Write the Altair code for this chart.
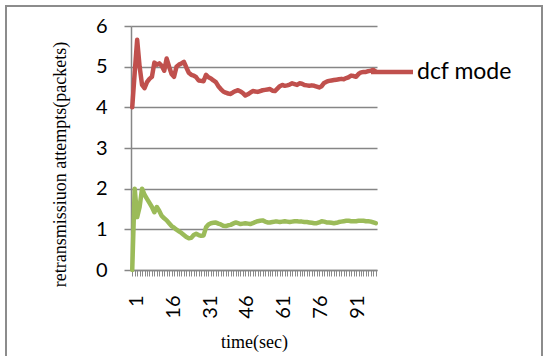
import altair as alt
import pandas as pd

time = list(range(1, 101))

dcf = [4.00, 4.85, 5.66, 5.00, 4.55, 4.47, 4.62, 4.70, 4.75, 5.10,
       5.05, 5.08, 5.02, 4.90, 5.20, 5.00, 4.82, 4.75, 5.00, 5.05,
       5.08, 5.12, 4.98, 4.85, 4.80, 4.78, 4.74, 4.66, 4.65, 4.64,
       4.80, 4.74, 4.71, 4.66, 4.62, 4.52, 4.45, 4.39, 4.36, 4.34,
       4.33, 4.37, 4.40, 4.42, 4.39, 4.35, 4.29, 4.32, 4.36, 4.40,
       4.39, 4.38, 4.40, 4.42, 4.43, 4.44, 4.45, 4.41, 4.40, 4.46,
       4.52, 4.55, 4.53, 4.54, 4.56, 4.59, 4.57, 4.55, 4.59, 4.58,
       4.55, 4.54, 4.53, 4.54, 4.53, 4.51, 4.49, 4.52, 4.60, 4.63,
       4.65, 4.66, 4.67, 4.68, 4.69, 4.70, 4.69, 4.72, 4.74, 4.78,
       4.77, 4.75, 4.82, 4.86, 4.87, 4.87, 4.89, 4.90, 4.92, 4.88]

other = [0.00, 2.00, 1.30, 1.55, 2.00, 1.85, 1.75, 1.65, 1.55, 1.42,
         1.55, 1.45, 1.33, 1.27, 1.22, 1.15, 1.08, 1.04, 0.99, 0.95,
         0.91, 0.86, 0.81, 0.78, 0.79, 0.86, 0.89, 0.86, 0.84, 0.85,
         1.05, 1.12, 1.15, 1.16, 1.17, 1.14, 1.12, 1.09, 1.08, 1.10,
         1.11, 1.14, 1.17, 1.15, 1.13, 1.14, 1.15, 1.14, 1.13, 1.15,
         1.18, 1.20, 1.21, 1.22, 1.19, 1.17, 1.17, 1.18, 1.19, 1.19,
         1.18, 1.19, 1.20, 1.19, 1.18, 1.19, 1.20, 1.20, 1.19, 1.19,
         1.18, 1.18, 1.17, 1.16, 1.15, 1.15, 1.17, 1.20, 1.19, 1.17,
         1.17, 1.16, 1.15, 1.16, 1.18, 1.19, 1.20, 1.21, 1.21, 1.20,
         1.20, 1.20, 1.21, 1.21, 1.21, 1.20, 1.20, 1.19, 1.17, 1.15]

series_names = ["dcf mode", "other"]
series_colors = ["#C0504D", "#9BBB59"]
x_labels = [1, 16, 31, 46, 61, 76, 91]
y_ticks = [0, 1, 2, 3, 4, 5, 6]

df = pd.concat([
    pd.DataFrame({"time": time, "value": dcf, "series": series_names[0]}),
    pd.DataFrame({"time": time, "value": other, "series": series_names[1]}),
])

label_test = " || ".join(f"datum.value == {v}" for v in x_labels)

x_enc = alt.X(
    "time:Q",
    scale=alt.Scale(domain=[0.5, 100.5], nice=False, zero=False),
    axis=alt.Axis(
        values=time,
        labelExpr=f"({label_test}) ? datum.label : ''",
        labelAngle=270, labelAlign="right", labelBaseline="middle",
        labelOffset=4, labelPadding=19, labelOverlap=False,
        labelFont="Lato", labelFontSize=20, labelColor="#000000",
        tickSize=6, tickColor="#8A8A8A", tickWidth=1,
        domainColor="#868686", domainWidth=1.5,
        grid=False,
        title="time(sec)", titleFont="Liberation Serif", titleFontSize=18,
        titleFontWeight="normal", titleColor="#000000",
        titleY=72, titleBaseline="middle",
    ),
)
y_enc = alt.Y(
    "value:Q",
    scale=alt.Scale(domain=[0, 6], nice=False),
    axis=alt.Axis(
        values=y_ticks,
        labelFont="Lato", labelFontSize=20, labelColor="#000000",
        labelPadding=17, tickSize=7, tickColor="#868686", tickWidth=1.5,
        domainColor="#868686", domainWidth=1.5,
        gridColor="#868686", gridWidth=1.5,
        title="retransmissiuon attempts(packets)",
        titleFont="Liberation Serif", titleFontSize=18,
        titleFontWeight="normal", titleColor="#000000",
        titleAngle=270, titleAlign="center", titleBaseline="middle",
        titleX=-71, titleY=138,
    ),
)

lines = alt.Chart(df).mark_line(strokeWidth=4.5, strokeJoin="round", strokeCap="round").encode(
    x=x_enc,
    y=y_enc,
    color=alt.Color("series:N", scale=alt.Scale(domain=series_names, range=series_colors), legend=None),
    detail="series:N",
)

one = alt.Data(values=[{"k": 1}])

legend_line = alt.Chart(one).mark_rule(color=series_colors[0], strokeWidth=4.5).encode(
    x=alt.value(240), x2=alt.value(282), y=alt.value(46)
)
legend_text = alt.Chart(one).mark_text(
    text=series_names[0], font="Lato", fontSize=23, align="left", baseline="middle", color="#000000"
).encode(x=alt.value(286), y=alt.value(46))

border = alt.Chart(one).mark_rect(fill=None, stroke="#8C8C8C", strokeWidth=2).encode(
    x=alt.value(-125), x2=alt.value(411), y=alt.value(-20), y2=alt.value(340)
)

chart = alt.layer(lines, legend_line, legend_text, border).properties(
    width=246, height=244,
    autosize=alt.AutoSizeParams(type="none"),
    padding={"left": 131, "top": 26, "right": 171, "bottom": 86},
    background="#FFFFFF",
).configure_view(stroke=None)

chart.save("out.html", embed_options={"renderer": "svg", "actions": False})
